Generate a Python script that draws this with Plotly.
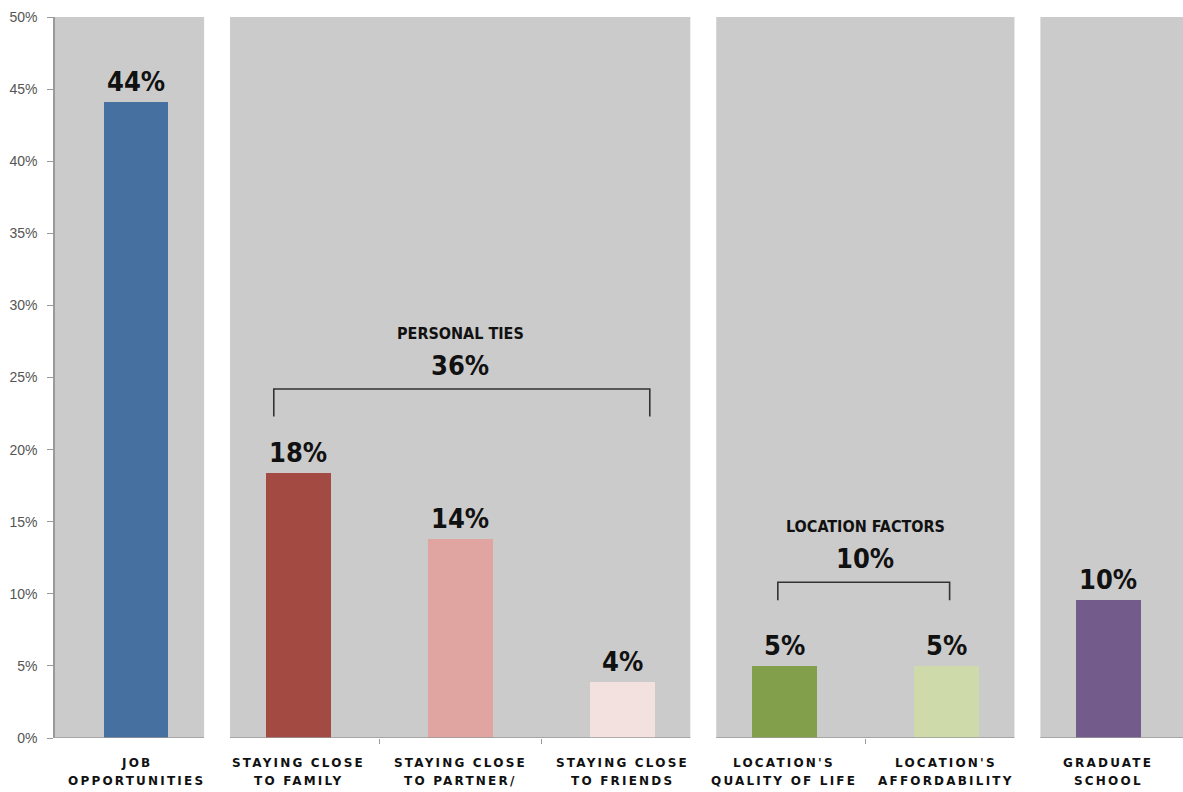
import plotly.graph_objects as go

# ---- data ----
categories = [
    "JOB<br>OPPORTUNITIES",
    "STAYING CLOSE<br>TO FAMILY",
    "STAYING CLOSE<br>TO PARTNER/<br>SPOUSE",
    "STAYING CLOSE<br>TO FRIENDS",
    "LOCATION'S<br>QUALITY OF LIFE",
    "LOCATION'S<br>AFFORDABILITY",
    "GRADUATE<br>SCHOOL",
]
values = [44.1, 18.4, 13.8, 3.9, 5.0, 5.0, 9.6]
value_labels = ["44%", "18%", "14%", "4%", "5%", "5%", "10%"]
bar_colors = ["#46709f", "#a34b43", "#e0a5a1", "#f2e1de", "#82a04b", "#cedaaa", "#735b8b"]
y_tick_values = [0, 5, 10, 15, 20, 25, 30, 35, 40, 45, 50]
y_tick_labels = ["0%", "5%", "10%", "15%", "20%", "25%", "30%", "35%", "40%", "45%", "50%"]
panel_groups = [(0, 0), (1, 3), (4, 5), (6, 6)]
bracket_titles = ["PERSONAL TIES", "LOCATION FACTORS"]
bracket_totals = ["36%", "10%"]
bracket_groups = [(1, 3), (4, 5)]

# ---- styling / layout config ----
X_MIN, X_MAX = -0.5, 6.46
PANEL_HALF = 0.42
PANEL_GRAY = "#cbcbcb"
AXIS_GRAY = "#9a9a9a"
NARROW = "Liberation Sans Narrow, DejaVu Sans Condensed, Arial Narrow, Liberation Sans, sans-serif"
bracket_x = [(0.85, 3.17), (3.96, 5.02)]
bracket_top = [24.2, 10.8]
bracket_leg = [22.3, 9.55]

fig = go.Figure()
fig.add_trace(go.Bar(
    x=list(range(len(values))), y=values,
    marker=dict(color=bar_colors, line=dict(width=0)),
    width=0.4, hoverinfo="skip", showlegend=False,
))

n = len(values)
shapes = []
for (s, e) in panel_groups:
    x0 = X_MIN if s == 0 else s - PANEL_HALF
    x1 = X_MAX if e == n - 1 else e + PANEL_HALF
    shapes.append(dict(type="rect", xref="x", yref="y", x0=x0, x1=x1, y0=0, y1=50,
                       fillcolor=PANEL_GRAY, line=dict(width=0), layer="below"))
    shapes.append(dict(type="line", xref="x", yref="y", x0=x0, x1=x1, y0=0, y1=0,
                       line=dict(color=AXIS_GRAY, width=1.5), layer="above"))

annotations = []
for i, (v, lab) in enumerate(zip(values, value_labels)):
    annotations.append(dict(x=i, y=v, xref="x", yref="y", text=lab, showarrow=False,
                            yanchor="bottom", yshift=3,
                            font=dict(family=NARROW, size=27, color="#111111", weight="bold")))
for i, cat in enumerate(categories):
    for j, line in enumerate(cat.split("<br>")):
        annotations.append(dict(x=i, y=0, xref="x", yref="y",
                                text='<span style="letter-spacing:2.2px">' + line + "</span>",
                                showarrow=False, yanchor="middle", yshift=-(25 + 18 * j),
                                font=dict(family="DejaVu Sans", size=12, color="#111111", weight="bold")))

for k, title in enumerate(bracket_titles):
    xa, xb = bracket_x[k]
    yt, yl = bracket_top[k], bracket_leg[k]
    shapes.append(dict(type="path", xref="x", yref="y",
                       path=f"M {xa},{yl} L {xa},{yt} L {xb},{yt} L {xb},{yl}",
                       line=dict(color="#333333", width=1.6)))
    s, e = bracket_groups[k]
    xc = (s + e) / 2
    annotations.append(dict(x=xc, y=yt, xref="x", yref="y", text=title, showarrow=False,
                            yanchor="middle", yshift=56,
                            font=dict(family=NARROW, size=16, color="#111111", weight="bold")))
    annotations.append(dict(x=xc, y=yt, xref="x", yref="y", text=bracket_totals[k], showarrow=False,
                            yanchor="middle", yshift=24,
                            font=dict(family=NARROW, size=27, color="#111111", weight="bold")))

fig.update_layout(
    width=1183, height=792,
    margin=dict(l=55, r=0, t=17, b=54),
    paper_bgcolor="white", plot_bgcolor="white",
    shapes=shapes, annotations=annotations,
    bargap=0,
    xaxis=dict(range=[X_MIN, X_MAX], showgrid=False, zeroline=False, showline=False,
               tickvals=[1.5, 2.5, 4.5], ticks="outside", ticklen=5, tickcolor=AXIS_GRAY,
               showticklabels=False, fixedrange=True),
    yaxis=dict(range=[0, 50], showgrid=False, zeroline=False, showline=True,
               linecolor=AXIS_GRAY, linewidth=1.5,
               tickvals=y_tick_values, ticktext=y_tick_labels,
               ticks="outside", ticklen=6, tickcolor=AXIS_GRAY,
               tickfont=dict(family="Liberation Sans", size=14, color="#555555"),
               ticklabelstandoff=7, fixedrange=True),
)

fig.write_html(
    "out.html",
    config={"displayModeBar": False},
    post_script="document.body.style.margin='0';document.documentElement.style.overflow='hidden';document.body.style.overflow='hidden';",
)
